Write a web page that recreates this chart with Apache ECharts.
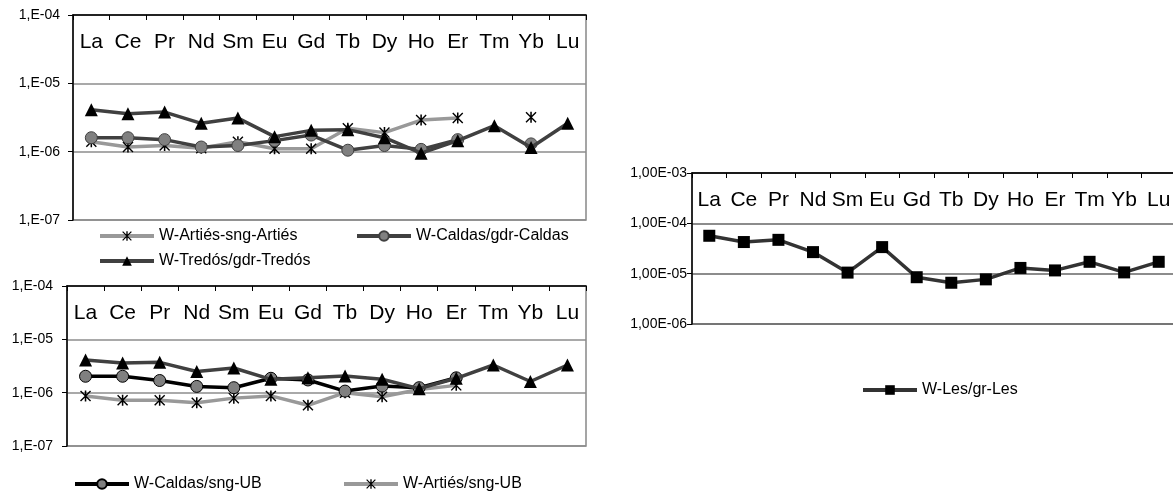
<!DOCTYPE html>
<html><head><meta charset="utf-8">
<script src="https://cdn.jsdelivr.net/npm/echarts@6/dist/echarts.min.js"></script>
<style>html,body{margin:0;padding:0;background:#fff}#c{width:1173px;height:499px}</style>
</head><body><div id="c"></div>
<script>
// ---- data ----
const categories = ['La','Ce','Pr','Nd','Sm','Eu','Gd','Tb','Dy','Ho','Er','Tm','Yb','Lu'];
// top-left panel
const artiesSngArties = [1.4e-6,1.17e-6,1.23e-6,1.12e-6,1.4e-6,1.1e-6,1.1e-6,2.2e-6,1.9e-6,2.9e-6,3.1e-6,null,3.2e-6,null];
const caldasGdrCaldas = [1.6e-6,1.6e-6,1.5e-6,1.17e-6,1.23e-6,1.45e-6,1.75e-6,1.05e-6,1.23e-6,1.08e-6,1.5e-6,null,1.3e-6,null];
const tredosGdrTredosA = [4.1e-6,3.6e-6,3.8e-6,2.6e-6,3.1e-6,1.66e-6,2.05e-6,2.1e-6,1.6e-6,0.95e-6,1.45e-6,2.4e-6,1.15e-6,2.6e-6];
// bottom-left panel
const tredosGdrTredosB = [4.1e-6,3.6e-6,3.7e-6,2.5e-6,2.9e-6,1.78e-6,1.9e-6,2.05e-6,1.78e-6,1.19e-6,1.86e-6,3.3e-6,1.62e-6,3.3e-6];
const caldasSngUB = [2.03e-6,2.03e-6,1.69e-6,1.31e-6,1.24e-6,1.86e-6,1.73e-6,1.07e-6,1.33e-6,1.24e-6,1.9e-6,null,null,null];
const artiesSngUB = [8.7e-7,7.2e-7,7.2e-7,6.5e-7,7.9e-7,8.7e-7,5.8e-7,1.0e-6,8.4e-7,1.15e-6,1.37e-6,null,null,null];
// right panel
const lesGrLes = [5.66e-5,4.25e-5,4.7e-5,2.68e-5,1.05e-5,3.37e-5,8.5e-6,6.6e-6,7.7e-6,1.3e-5,1.16e-5,1.72e-5,1.06e-5,1.72e-5];

// ---- chart ----
const FONT = '"Liberation Sans", Arial, sans-serif';
const STAR = 'path://M4.3,0L5.7,0L5.7,10L4.3,10Z M0,0.9L0.9,0L10,9.1L9.1,10Z M9.1,0L10,0.9L0.9,10L0,9.1Z';
const fmtShort = v => '1,E-0' + Math.round(-Math.log10(v));
const fmtLong = v => '1,00E-0' + Math.round(-Math.log10(v));

function xAx(gi) {
  return {type:'category', gridIndex:gi, data:categories, position:'top', boundaryGap:true,
    axisLine:{show:true,onZero:false,lineStyle:{color:'#000',width:1.5}},
    axisTick:{show:true,inside:true,length:5,lineStyle:{color:'#000',width:1}},
    axisLabel:{inside:true,margin:17,fontSize:21,color:'#000',fontFamily:FONT,interval:0},
    splitLine:{show:false}};
}
function yAx(gi, min, max, fmt, margin, splitColor) {
  return {type:'log', logBase:10, gridIndex:gi, min:min, max:max,
    axisLine:{show:true,onZero:false,lineStyle:{color:'#000',width:1.5}},
    axisTick:{show:true,length:5,lineStyle:{color:'#000',width:1}},
    axisLabel:{fontSize:14,color:'#000',fontFamily:FONT,margin:margin,formatter:fmt},
    splitLine:{show:true,lineStyle:{color:splitColor,width:1.5}},
    minorTick:{show:false}, minorSplitLine:{show:false}};
}
function leg(name, x, y) {
  return {data:[name], left:x, top:y-9, itemWidth:54, itemHeight:12, padding:0, itemGap:0,
    selectedMode:false, lineStyle:{width:4}, textStyle:{fontSize:16,color:'#000',fontFamily:FONT}};
}
function ser(name, gi, data, kind) {
  const s = {name:name, type:'line', xAxisIndex:gi, yAxisIndex:gi, data:data, connectNulls:false,
    showSymbol:true, animation:false};
  if (kind === 'star') {
    Object.assign(s, {symbol:STAR, symbolSize:11, lineStyle:{color:'#999999',width:3.5}, itemStyle:{color:'#000'}, z:2});
  } else if (kind === 'circleDark') {
    Object.assign(s, {symbol:'circle', symbolSize:12, lineStyle:{color:'#404040',width:3.5}, itemStyle:{color:'#808080',borderColor:'#404040',borderWidth:1}, z:3});
  } else if (kind === 'circleBlack') {
    Object.assign(s, {symbol:'circle', symbolSize:12, lineStyle:{color:'#000',width:3.5}, itemStyle:{color:'#808080',borderColor:'#000',borderWidth:1}, z:3});
  } else if (kind === 'tri') {
    Object.assign(s, {symbol:'triangle', symbolSize:13, lineStyle:{color:'#404040',width:3.5}, itemStyle:{color:'#000'}, z:4});
  } else if (kind === 'rect') {
    Object.assign(s, {symbol:'rect', symbolSize:12, lineStyle:{color:'#333',width:3.5}, itemStyle:{color:'#000'}, z:3});
  }
  return s;
}

const chart = echarts.init(document.getElementById('c'), null, {renderer:'canvas'});
chart.setOption({
  animation:false,
  backgroundColor:'#fff',
  textStyle:{fontFamily:FONT},
  grid:[
    {left:73, top:15, width:513, height:205, show:true, borderColor:'#888', borderWidth:1.5, backgroundColor:'transparent', containLabel:false, outerBoundsMode:'none'},
    {left:67, top:286, width:519, height:160, show:true, borderColor:'#888', borderWidth:1.5, backgroundColor:'transparent', containLabel:false, outerBoundsMode:'none'},
    {left:692, top:173, width:484, height:151, show:true, borderColor:'#888', borderWidth:1.5, backgroundColor:'transparent', containLabel:false, outerBoundsMode:'none'}
  ],
  xAxis:[xAx(0), xAx(1), xAx(2)],
  yAxis:[
    yAx(0, 1e-7, 1e-4, fmtShort, 13, '#8c8c8c'),
    yAx(1, 1e-7, 1e-4, fmtShort, 14, '#8c8c8c'),
    yAx(2, 1e-6, 1e-3, fmtLong, 5, '#666')
  ],
  legend:[
    leg('W-Artiés-sng-Artiés', 98, 237),
    leg('W-Caldas/gdr-Caldas', 355, 237),
    leg('W-Tredós/gdr-Tredós', 98, 262),
    leg('W-Caldas/sng-UB', 73, 485),
    leg('W-Artiés/sng-UB', 342, 485),
    leg('W-Les/gr-Les', 861, 391)
  ],
  series:[
    ser('W-Artiés-sng-Artiés', 0, artiesSngArties, 'star'),
    ser('W-Caldas/gdr-Caldas', 0, caldasGdrCaldas, 'circleDark'),
    ser('W-Tredós/gdr-Tredós', 0, tredosGdrTredosA, 'tri'),
    ser('W-Artiés/sng-UB', 1, artiesSngUB, 'star'),
    ser('W-Tredós/gdr-Tredós', 1, tredosGdrTredosB, 'tri'),
    ser('W-Caldas/sng-UB', 1, caldasSngUB, 'circleBlack'),
    ser('W-Les/gr-Les', 2, lesGrLes, 'rect')
  ]
});
</script></body></html>
